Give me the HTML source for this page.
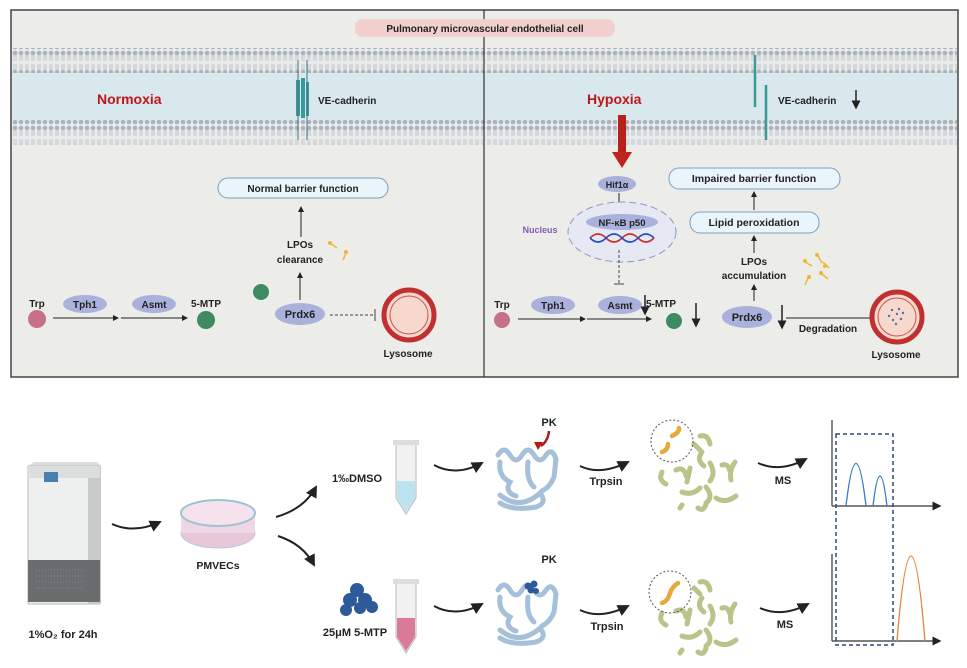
<!DOCTYPE html>
<html><head><meta charset="utf-8"><style>
html,body{margin:0;padding:0;background:#fff;width:967px;height:668px;overflow:hidden}
svg{display:block}
text{font-family:"Liberation Sans",Arial,sans-serif;font-weight:bold;fill:#222}
</style></head><body>
<svg width="967" height="668" viewBox="0 0 967 668" xmlns="http://www.w3.org/2000/svg">
<defs>
<pattern id="lip" width="6" height="25" patternUnits="userSpaceOnUse">
<rect width="6" height="25" fill="#e9eaea"/>
<circle cx="3" cy="3" r="2.3" fill="#a9b4c0"/>
<circle cx="3" cy="22" r="2.3" fill="#a9b4c0"/>
<path d="M2 5v6M4 5v6M2 14v6M4 14v6" stroke="#b8c0c8" stroke-width="0.8"/>
</pattern>
<marker id="ah" markerWidth="6" markerHeight="6" refX="5" refY="3" orient="auto"><path d="M0,0L6,3L0,6z" fill="#222"/></marker>
</defs>
<!-- top frame -->
<rect x="11" y="10" width="947" height="367" fill="#ecece8" stroke="#444" stroke-width="1.5"/>
<rect x="12" y="48" width="945" height="25" fill="url(#lip)"/>
<rect x="12" y="73" width="945" height="47" fill="#d8e8ec"/>
<rect x="12" y="120" width="945" height="25" fill="url(#lip)"/>
<line x1="484" y1="10" x2="484" y2="377" stroke="#333" stroke-width="1.2"/>
<rect x="355" y="19" width="260" height="18" rx="8" fill="#f1d0ce"/>
<text x="485" y="32" font-size="10" text-anchor="middle">Pulmonary microvascular endothelial cell</text>
<text x="97" y="104" font-size="14" style="fill:#c0151c">Normoxia</text>
<g fill="#3a9a9a"><rect x="296" y="80" width="4" height="36"/><rect x="301" y="78" width="4" height="40"/><rect x="306" y="82" width="3" height="34"/></g>
<line x1="298" y1="60" x2="298" y2="140" stroke="#3b7a84"/><line x1="307" y1="60" x2="307" y2="140" stroke="#3b7a84"/>
<text x="318" y="104" font-size="10">VE-cadherin</text>
<text x="587" y="104" font-size="14" style="fill:#c0151c">Hypoxia</text>
<line x1="755" y1="55" x2="755" y2="107" stroke="#3a9a9a" stroke-width="2.5"/>
<line x1="766" y1="85" x2="766" y2="140" stroke="#3a9a9a" stroke-width="2.5"/>
<text x="778" y="104" font-size="10">VE-cadherin</text>
<line x1="856" y1="90" x2="856" y2="108" stroke="#222" stroke-width="1.5" marker-end="url(#ah)"/>
<rect x="618" y="115" width="8" height="40" fill="#b8201c"/>
<path d="M612 152 L632 152 L622 168z" fill="#c0241c"/>
<!-- left pathway -->
<rect x="218" y="178" width="170" height="20" rx="10" fill="#eaf4fb" stroke="#7a9fbf"/>
<text x="303" y="192" font-size="10" text-anchor="middle">Normal barrier function</text>
<line x1="301" y1="237" x2="301" y2="207" stroke="#222" marker-end="url(#ah)"/>
<text x="300" y="248" font-size="10" text-anchor="middle">LPOs</text>
<text x="300" y="263" font-size="10" text-anchor="middle">clearance</text>
<g stroke="#f0b43a" stroke-width="1.5"><line x1="330" y1="243" x2="337" y2="248"/><line x1="346" y1="253" x2="343" y2="260"/></g>
<circle cx="330" cy="243" r="2" fill="#f0b43a"/><circle cx="346" cy="252" r="2" fill="#f0b43a"/>
<line x1="300" y1="300" x2="300" y2="273" stroke="#222" marker-end="url(#ah)"/>
<ellipse cx="300" cy="314" rx="25" ry="11" fill="#a9b1dc"/>
<text x="300" y="318" font-size="11" text-anchor="middle">Prdx6</text>
<circle cx="261" cy="292" r="8" fill="#3e8a63"/>
<line x1="330" y1="315" x2="374" y2="315" stroke="#444" stroke-dasharray="3,2"/>
<line x1="375" y1="309" x2="375" y2="321" stroke="#444"/>
<circle cx="409" cy="315" r="25" fill="#f6d8cc" stroke="#c03030" stroke-width="5"/>
<circle cx="409" cy="315" r="19" fill="none" stroke="#d05050" stroke-width="1"/>
<text x="408" y="357" font-size="10" text-anchor="middle">Lysosome</text>
<text x="37" y="307" font-size="10" text-anchor="middle">Trp</text>
<circle cx="37" cy="319" r="9" fill="#c87088"/>
<ellipse cx="85" cy="304" rx="22" ry="9" fill="#a9b1dc"/><text x="85" y="308" font-size="10" text-anchor="middle">Tph1</text>
<ellipse cx="154" cy="304" rx="22" ry="9" fill="#a9b1dc"/><text x="154" y="308" font-size="10" text-anchor="middle">Asmt</text>
<line x1="53" y1="318" x2="118" y2="318" stroke="#222" marker-end="url(#ah)"/>
<line x1="121" y1="318" x2="187" y2="318" stroke="#222" marker-end="url(#ah)"/>
<text x="206" y="307" font-size="10" text-anchor="middle">5-MTP</text>
<circle cx="206" cy="320" r="9" fill="#3e8a63"/>
<!-- right pathway -->
<ellipse cx="617" cy="184" rx="19" ry="8" fill="#a9b1dc"/><text x="617" y="188" font-size="9" text-anchor="middle">Hif1α</text>
<line x1="619" y1="193" x2="619" y2="207" stroke="#222" marker-end="url(#ah)"/>
<ellipse cx="622" cy="232" rx="54" ry="30" fill="#e6e8f4" stroke="#8f97c8" stroke-dasharray="7,4"/>
<ellipse cx="622" cy="222" rx="36" ry="8" fill="#a9b1dc"/><text x="622" y="226" font-size="9.5" text-anchor="middle">NF-κB p50</text>
<path d="M590 238 q8 -8 16 0 t16 0 t16 0 t16 0" fill="none" stroke="#d03030" stroke-width="1.6"/>
<path d="M590 238 q8 8 16 0 t16 0 t16 0 t16 0" fill="none" stroke="#2050c0" stroke-width="1.6"/>
<text x="540" y="233" font-size="9" text-anchor="middle" style="fill:#8a5cb0">Nucleus</text>
<line x1="619" y1="250" x2="619" y2="283" stroke="#444" stroke-dasharray="3,2"/>
<line x1="614" y1="284" x2="624" y2="284" stroke="#444"/>
<text x="502" y="308" font-size="10" text-anchor="middle">Trp</text>
<circle cx="502" cy="320" r="8" fill="#c87088"/>
<ellipse cx="553" cy="305" rx="22" ry="9" fill="#a9b1dc"/><text x="553" y="309" font-size="10" text-anchor="middle">Tph1</text>
<ellipse cx="620" cy="305" rx="22" ry="9" fill="#a9b1dc"/><text x="620" y="309" font-size="10" text-anchor="middle">Asmt</text>
<line x1="645" y1="295" x2="645" y2="314" stroke="#222" stroke-width="1.5" marker-end="url(#ah)"/>
<line x1="518" y1="319" x2="585" y2="319" stroke="#222" marker-end="url(#ah)"/>
<line x1="587" y1="319" x2="651" y2="319" stroke="#222" marker-end="url(#ah)"/>
<text x="661" y="307" font-size="10" text-anchor="middle">5-MTP</text>
<circle cx="674" cy="321" r="8" fill="#3e8a63"/>
<line x1="696" y1="303" x2="696" y2="326" stroke="#222" stroke-width="1.5" marker-end="url(#ah)"/>
<rect x="669" y="168" width="171" height="21" rx="10" fill="#eaf4fb" stroke="#7a9fbf"/>
<text x="754" y="182" font-size="10.5" text-anchor="middle">Impaired barrier function</text>
<line x1="754" y1="210" x2="754" y2="192" stroke="#222" marker-end="url(#ah)"/>
<rect x="690" y="212" width="129" height="21" rx="10" fill="#eaf4fb" stroke="#7a9fbf"/>
<text x="754" y="226" font-size="10.5" text-anchor="middle">Lipid peroxidation</text>
<line x1="754" y1="253" x2="754" y2="236" stroke="#222" marker-end="url(#ah)"/>
<text x="754" y="265" font-size="10" text-anchor="middle">LPOs</text>
<text x="754" y="279" font-size="10" text-anchor="middle">accumulation</text>
<g stroke="#f0b43a" stroke-width="1.5"><line x1="805" y1="262" x2="812" y2="266"/><line x1="818" y1="256" x2="822" y2="263"/><line x1="808" y1="278" x2="805" y2="285"/><line x1="822" y1="274" x2="828" y2="279"/><line x1="823" y1="262" x2="829" y2="268"/></g>
<g fill="#f0b43a"><circle cx="805" cy="261" r="2"/><circle cx="817" cy="255" r="2"/><circle cx="809" cy="277" r="2"/><circle cx="821" cy="273" r="2"/><circle cx="825" cy="266" r="2"/></g>
<line x1="754" y1="301" x2="754" y2="285" stroke="#222" marker-end="url(#ah)"/>
<ellipse cx="747" cy="317" rx="25" ry="11" fill="#a9b1dc"/><text x="747" y="321" font-size="11" text-anchor="middle">Prdx6</text>
<line x1="782" y1="305" x2="782" y2="328" stroke="#222" stroke-width="1.5" marker-end="url(#ah)"/>
<line x1="786" y1="318" x2="881" y2="318" stroke="#222" marker-end="url(#ah)"/>
<text x="828" y="332" font-size="10" text-anchor="middle">Degradation</text>
<circle cx="897" cy="317" r="25" fill="#f6d8cc" stroke="#c03030" stroke-width="5"/>
<circle cx="897" cy="317" r="19" fill="none" stroke="#d05050" stroke-width="1"/>
<g fill="#5a6fb0"><circle cx="892" cy="310" r="1.2"/><circle cx="897" cy="314" r="1.2"/><circle cx="901" cy="319" r="1.2"/><circle cx="893" cy="320" r="1.2"/><circle cx="899" cy="309" r="1.2"/><circle cx="903" cy="313" r="1.2"/><circle cx="889" cy="316" r="1.2"/><circle cx="896" cy="324" r="1.2"/></g>
<text x="896" y="358" font-size="10" text-anchor="middle">Lysosome</text>

<!-- bottom -->
<path d="M28 466 l6 -4 h63 l4 4z" fill="#ddd"/>
<rect x="28" y="466" width="72" height="138" fill="#eef0f0" stroke="#bbb"/>
<rect x="88" y="466" width="13" height="138" fill="#c8cacb"/>
<rect x="28" y="466" width="72" height="12" fill="#dcdede"/>
<rect x="44" y="472" width="14" height="10" fill="#4a7fb0"/>
<rect x="28" y="560" width="72" height="42" fill="#6a6c6e"/>
<g stroke="#888" stroke-width="1" stroke-dasharray="1,2"><line x1="36" y1="570" x2="82" y2="570"/><line x1="36" y1="576" x2="82" y2="576"/><line x1="36" y1="582" x2="82" y2="582"/><line x1="36" y1="588" x2="82" y2="588"/></g>
<text x="63" y="638" font-size="11" text-anchor="middle">1%O₂ for 24h</text>
<path d="M112 524 q22 10 48 -2" fill="none" stroke="#222" stroke-width="2" marker-end="url(#ah)"/>
<ellipse cx="218" cy="533" rx="37" ry="15" fill="#e6c8da" stroke="#b8c8d8"/>
<rect x="181" y="513" width="74" height="20" fill="#efd6e4"/>
<ellipse cx="218" cy="513" rx="37" ry="13" fill="#f5e2ec" stroke="#9cc3d3" stroke-width="2"/>
<text x="218" y="569" font-size="10.5" text-anchor="middle">PMVECs</text>
<path d="M276 517 q28 -8 40 -30" fill="none" stroke="#222" stroke-width="2" marker-end="url(#ah)"/>
<path d="M278 536 q25 8 36 29" fill="none" stroke="#222" stroke-width="2" marker-end="url(#ah)"/>
<text x="357" y="482" font-size="11" text-anchor="middle">1‰DMSO</text>
<path d="M396 443 h20 v55 l-10 16 l-10 -16z" fill="#f1f1f1" stroke="#bbb"/>
<path d="M397 481 h18 v17 l-9 14 l-9 -14z" fill="#bde2f0"/>
<rect x="393" y="440" width="26" height="5" fill="#ddd"/>
<g fill="#2d5a98"><circle cx="350" cy="600" r="7"/><circle cx="357" cy="590" r="7"/><circle cx="365" cy="600" r="7"/><circle cx="346" cy="610" r="6"/><circle cx="372" cy="607" r="6"/><circle cx="360" cy="608" r="6"/></g>
<text x="355" y="636" font-size="11" text-anchor="middle">25μM 5-MTP</text>
<path d="M396 582 h20 v55 l-10 16 l-10 -16z" fill="#f1f1f1" stroke="#bbb"/>
<path d="M397 618 h18 v19 l-9 14 l-9 -14z" fill="#d87a98"/>
<rect x="393" y="579" width="26" height="5" fill="#ddd"/>
<path d="M434 465 q22 12 48 -2" fill="none" stroke="#222" stroke-width="2" marker-end="url(#ah)"/>
<path d="M434 606 q22 12 48 -2" fill="none" stroke="#222" stroke-width="2" marker-end="url(#ah)"/>
<g fill="none" stroke="#a5c0d8" stroke-width="5" stroke-linecap="round">
<path d="M498 455 q6 -10 12 0 q6 10 12 0 q6 -10 12 0 q6 10 12 0 q6 -8 10 4 l-2 18 q-4 10 -12 14"/>
<path d="M500 462 q-2 14 10 20 q-6 10 6 14 M528 462 q-2 18 6 25 M500 495 q20 16 40 -2 q8 10 -4 14 q-24 4 -36 -4"/>
<path d="M498 590 q6 -10 12 0 q6 10 12 0 q6 -10 12 0 q6 10 12 0 q6 -8 10 4 l-2 18 q-4 10 -12 14"/>
<path d="M500 597 q-2 14 10 20 q-6 10 6 14 M528 597 q-2 18 6 25 M500 630 q20 16 40 -2 q8 10 -4 14 q-24 4 -36 -4"/>
</g>
<g fill="#2d5a98"><circle cx="528" cy="586" r="3.5"/><circle cx="534" cy="584" r="3.5"/><circle cx="531" cy="590" r="3.5"/><circle cx="536" cy="591" r="3"/></g>
<text x="549" y="426" font-size="11" text-anchor="middle">PK</text>
<text x="549" y="563" font-size="11" text-anchor="middle">PK</text>
<path d="M549 431 q-1 10 -8 15" fill="none" stroke="#b01c1c" stroke-width="2.5"/>
<path d="M534 442 l9 0 l-5 8z" fill="#b01c1c"/>
<path d="M580 466 q20 10 48 -4" fill="none" stroke="#222" stroke-width="2" marker-end="url(#ah)"/>
<path d="M580 610 q20 10 48 -4" fill="none" stroke="#222" stroke-width="2" marker-end="url(#ah)"/>
<text x="606" y="485" font-size="11" text-anchor="middle">Trpsin</text>
<text x="607" y="630" font-size="11" text-anchor="middle">Trpsin</text>
<g fill="none" stroke="#b8c48a" stroke-width="5" stroke-linecap="round">
<path d="M662 472 q-4 8 4 12 M676 470 q8 -4 10 6 M700 436 q8 -2 10 8 M702 452 q-6 8 2 14 M690 468 l-3 14 M710 463 q6 10 0 18 M722 465 q6 -2 8 6 M735 462 q-6 8 -4 18 M706 487 q8 10 0 16 M682 492 q10 4 18 -4 M716 498 q10 6 20 -2 M682 505 l-2 3 M698 508 q6 4 8 -4 M694 444 l6 6"/>
<path d="M662 613 q-4 8 4 12 M676 611 q8 -4 10 6 M700 582 q8 -2 10 8 M702 598 q-6 8 2 14 M690 610 l-3 14 M710 606 q6 10 0 18 M722 608 q6 -2 8 6 M735 604 q-6 8 -4 18 M706 630 q8 10 0 16 M682 636 q10 4 18 -4 M716 642 q10 6 20 -2 M682 650 l-2 3 M698 652 q6 4 8 -4 M694 588 l6 6"/>
</g>
<path d="M662 452 q6 -2 6 -8 M672 436 q8 -4 7 -8" fill="none" stroke="#e8a83a" stroke-width="4.5" stroke-linecap="round"/>
<path d="M662 603 q6 -2 8 -10 q2 -6 8 -10" fill="none" stroke="#e8a83a" stroke-width="4.5" stroke-linecap="round"/>
<circle cx="672" cy="441" r="21" fill="none" stroke="#555" stroke-dasharray="2,2"/>
<circle cx="670" cy="592" r="21" fill="none" stroke="#555" stroke-dasharray="2,2"/>
<path d="M758 463 q22 10 48 -4" fill="none" stroke="#222" stroke-width="2" marker-end="url(#ah)"/>
<path d="M760 608 q22 10 48 -4" fill="none" stroke="#222" stroke-width="2" marker-end="url(#ah)"/>
<text x="783" y="484" font-size="11" text-anchor="middle">MS</text>
<text x="785" y="628" font-size="11" text-anchor="middle">MS</text>
<line x1="832" y1="506" x2="832" y2="420" stroke="#333" stroke-width="1.2"/>
<line x1="832" y1="506" x2="940" y2="506" stroke="#555" stroke-width="1.5" marker-end="url(#ah)"/>
<line x1="832" y1="641" x2="832" y2="554" stroke="#333" stroke-width="1.2"/>
<line x1="832" y1="641" x2="940" y2="641" stroke="#555" stroke-width="1.5" marker-end="url(#ah)"/>
<rect x="836" y="434" width="57" height="211" fill="none" stroke="#2c4a7a" stroke-width="1.5" stroke-dasharray="4,3"/>
<path d="M846 506 q10 -85 20 0 M873 506 q7 -60 14 0" fill="none" stroke="#3a7ac0" stroke-width="1.3"/>
<path d="M897 641 q14 -170 28 0" fill="none" stroke="#e8823a" stroke-width="1.3"/>
</svg>
</body></html>
